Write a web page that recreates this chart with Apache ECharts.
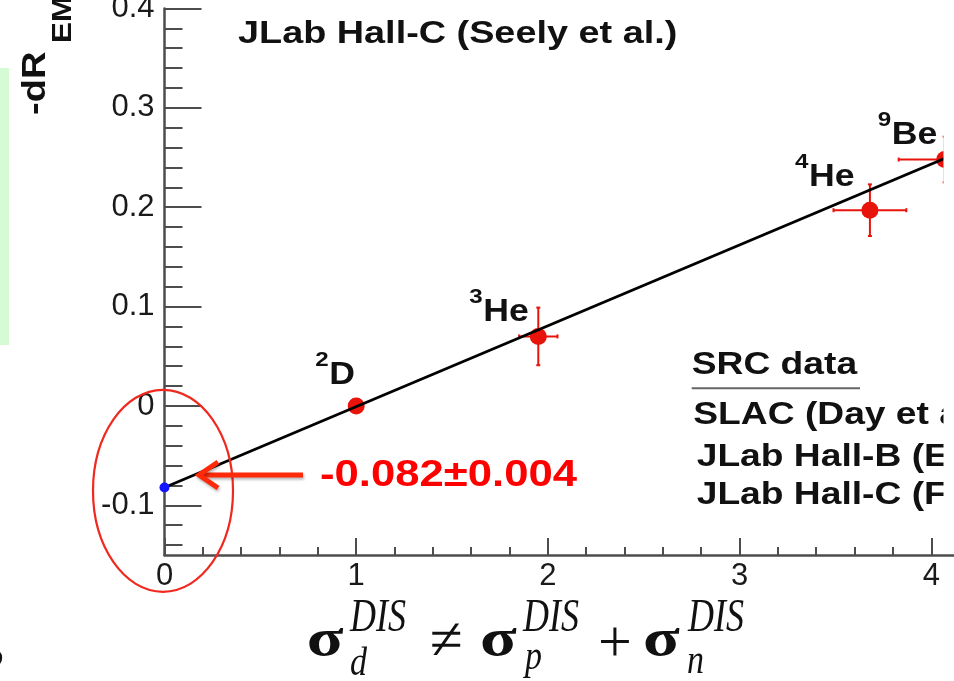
<!DOCTYPE html>
<html>
<head>
<meta charset="utf-8">
<script src="https://cdn.jsdelivr.net/npm/echarts@6/dist/echarts.min.js"></script>
<style>
  html, body { margin: 0; padding: 0; overflow: hidden; background: #ffffff; }
  #chart { width: 954px; height: 681px; }
</style>
</head>
<body>
<div id="chart"></div>
<script>
// Nuclei with both an SRC scale factor and an EMC slope
const massNumbers = ['2', '3', '4', '9'];
const elementNames = ['D', 'He', 'He', 'Be'];
const srcScale = [1.00, 1.95, 3.68, 4.07];
const srcScaleErr = [0.00, 0.10, 0.19, 0.24];
const emcSlope = [0.000, 0.070, 0.197, 0.248];
const emcSlopeErr = [0.000, 0.029, 0.026, 0.023];

// Straight-line fit through the points, extrapolated to zero SRC scale
const fitLineX = [0, 4.5];
const fitLineY = [-0.082, 0.284];
const interceptValue = -0.082;
const interceptErr = 0.004;

// Axis ticks
const xTickValues = [0, 1, 2, 3, 4];
const yTickValues = [-0.1, 0, 0.1, 0.2, 0.3, 0.4];

// Texts
const yAxisTitleMain = '-dR';
const yAxisTitleSub = 'EMC';
const yAxisTitleTail = '/dx';
const topLegendLine = 'JLab Hall-C (Seely et al.)';
const srcLegendTitle = 'SRC data';
const srcLegendEntries = ['SLAC (Day et al.)', 'JLab Hall-B (Egiyan et al.)', 'JLab Hall-C (Fomin et al.)'];

const RED = '#e8130b';
const AXIS = '#4d4d4d';
const SANS = 'Liberation Sans, Arial, Helvetica, sans-serif';
const SERIF = 'Liberation Serif, Times New Roman, serif';

const chart = echarts.init(document.getElementById('chart'), null, { renderer: 'canvas' });

// minor ticks of the y axis every 0.02
const yMinorTicks = [];
for (let k = -7; k <= 19; k++) {
  if (k % 5 !== 0) yMinorTicks.push(+(k * 0.02).toFixed(2));
}

const pointData = srcScale.map((x, i) => [x, emcSlope[i]]);
const errorData = srcScale.map((x, i) => [x, emcSlope[i], srcScaleErr[i], emcSlopeErr[i]]);
const fitData = fitLineX.map((x, i) => [x, fitLineY[i]]);

const option = {
  animation: false,
  backgroundColor: '#ffffff',
  grid: { left: 164.5, top: 8.5, width: 862.6, height: 546.5, containLabel: false, outerBoundsMode: 'none' },
  xAxis: {
    type: 'value', min: 0, max: 4.5, interval: 1,
    axisLine: { onZero: false, lineStyle: { color: AXIS, width: 2.5 } },
    axisTick: { inside: true, length: 17, lineStyle: { color: AXIS, width: 2 } },
    minorTick: { show: true, splitNumber: 5, length: 8, lineStyle: { color: AXIS, width: 2 } },
    axisLabel: {
      customValues: xTickValues,
      fontFamily: SANS, fontSize: 31, color: '#1a1a1a', margin: 6,
      formatter: v => String(v)
    },
    splitLine: { show: false }
  },
  yAxis: [
    {
      type: 'value', min: -0.15, max: 0.4,
      axisLine: { show: true, onZero: false, lineStyle: { color: AXIS, width: 2.5 } },
      axisTick: { customValues: yTickValues, inside: true, length: 37, lineStyle: { color: AXIS, width: 2 } },
      axisLabel: {
        customValues: yTickValues,
        fontFamily: SANS, fontSize: 31, color: '#1a1a1a', margin: 10,
        formatter: v => String(+(+v).toFixed(2))
      },
      splitLine: { show: false }
    },
    {
      type: 'value', min: -0.15, max: 0.4, position: 'left',
      axisLine: { show: false },
      axisTick: { customValues: yMinorTicks, inside: true, length: 18, lineStyle: { color: AXIS, width: 2 } },
      axisLabel: { show: false },
      splitLine: { show: false }
    }
  ],
  series: [
    {
      type: 'custom',
      name: 'errors',
      z: 2,
      clip: false,
      data: errorData,
      renderItem(params, api) {
        const x = api.value(0), y = api.value(1), ex = api.value(2), ey = api.value(3);
        const style = { stroke: RED, lineWidth: 2 };
        const children = [];
        const cap = 2;
        if (ex > 0) {
          const l = api.coord([x - ex, y]), r = api.coord([x + ex, y]);
          children.push({ type: 'line', shape: { x1: l[0], y1: l[1], x2: r[0], y2: r[1] }, style });
          children.push({ type: 'line', shape: { x1: l[0], y1: l[1] - cap, x2: l[0], y2: l[1] + cap }, style });
          children.push({ type: 'line', shape: { x1: r[0], y1: r[1] - cap, x2: r[0], y2: r[1] + cap }, style });
        }
        if (ey > 0) {
          const t = api.coord([x, y + ey]), b = api.coord([x, y - ey]);
          children.push({ type: 'line', shape: { x1: t[0], y1: t[1], x2: b[0], y2: b[1] }, style });
          children.push({ type: 'line', shape: { x1: t[0] - cap, y1: t[1], x2: t[0] + cap, y2: t[1] }, style });
          children.push({ type: 'line', shape: { x1: b[0] - cap, y1: b[1], x2: b[0] + cap, y2: b[1] }, style });
        }
        return { type: 'group', children };
      }
    },
    {
      type: 'scatter', name: 'SRC vs EMC', z: 3,
      symbol: 'circle', symbolSize: 17,
      itemStyle: { color: RED, opacity: 1 },
      data: pointData
    },
    {
      type: 'line', name: 'fit', z: 4,
      showSymbol: false, symbol: 'none',
      lineStyle: { color: '#000000', width: 2.8 },
      data: fitData
    },
    {
      type: 'scatter', name: 'intercept', z: 5,
      symbol: 'circle', symbolSize: 10,
      itemStyle: { color: '#1414ff', opacity: 1 },
      data: [[0, interceptValue]]
    }
  ]
};

chart.setOption(option);

// text helper: left edge at x, alphabetic baseline at y, optional stretch
function textAt(text, x, baseline, size, opts) {
  opts = opts || {};
  const k = opts.mid || 0.35;
  return {
    type: 'text',
    x: x,
    y: baseline - k * size,
    scaleX: opts.sx || 1,
    scaleY: opts.sy || 1,
    z: 100,
    style: {
      text: text,
      fontSize: size,
      fontWeight: opts.weight || 'bold',
      fontStyle: opts.italic ? 'italic' : 'normal',
      fontFamily: opts.family || SANS,
      fill: opts.color || '#111111',
      align: 'left',
      verticalAlign: 'middle'
    }
  };
}

const graphics = [];

// pale slide panel at the far left and a clipped glyph of the slide text
graphics.push({ type: 'rect', shape: { x: 0, y: 68, width: 9, height: 277 }, style: { fill: '#d4fbd4' }, z: 0 });
graphics.push(textAt('o', -15, 668, 30, {}));

// rotated y axis title (reads bottom to top)
const titleSize = 34, titleStretch = 1.12;
graphics.push({
  type: 'text', x: 48 - 0.35 * titleSize, y: 115, rotation: Math.PI / 2, scaleX: titleStretch, z: 100,
  style: { text: yAxisTitleMain, fontSize: titleSize, fontWeight: 'bold', fontFamily: SANS, fill: '#111', align: 'left', verticalAlign: 'middle' }
});
graphics.push({
  type: 'text', x: 73 - 0.35 * 28, y: 43, rotation: Math.PI / 2, scaleX: titleStretch, z: 100,
  style: { text: yAxisTitleSub + yAxisTitleTail, fontSize: 28, fontWeight: 'bold', fontFamily: SANS, fill: '#111', align: 'left', verticalAlign: 'middle' }
});

// legend text of the EMC data set
graphics.push(textAt(topLegendLine, 238, 45, 31, { sx: 1.22 }));

// SRC legend block
graphics.push(textAt(srcLegendTitle, 691.7, 376.7, 31, { sx: 1.2 }));
graphics.push({ type: 'line', shape: { x1: 691.7, y1: 388.3, x2: 860, y2: 388.3 }, style: { stroke: '#666666', lineWidth: 2 }, z: 100 });
const legendBaselines = [426.7, 468.3, 506.7];
const legendLefts = [693.3, 696.7, 696.7];
srcLegendEntries.forEach((t, i) => graphics.push(textAt(t, legendLefts[i], legendBaselines[i], 31, { sx: 1.2 })));

// nucleus labels, placed relative to each data point
const labelOffsets = [[-27, -20], [-55, -13], [-61, -22], [-53, -13]];
pointData.forEach((p, i) => {
  const px = chart.convertToPixel({ gridIndex: 0 }, p);
  const lx = px[0] + labelOffsets[i][0];
  const ly = px[1] + labelOffsets[i][1];
  graphics.push(textAt(elementNames[i], lx, ly, 31, { sx: 1.15 }));
  graphics.push(textAt(massNumbers[i], lx - 14, ly - 18.5, 21, { sx: 1.15 }));
});

// the plot picture ends a little before the right edge of the slide
graphics.push({ type: 'rect', shape: { x: 943.5, y: 0, width: 12, height: 545 }, style: { fill: '#ffffff' }, z: 200 });

// circled intercept with arrow and value
graphics.push({ type: 'ellipse', shape: { cx: 163, cy: 490.8, rx: 70, ry: 101 }, style: { fill: 'none', stroke: '#f0281e', lineWidth: 2.2 }, z: 90 });
const arrowStyle = { stroke: '#ff2a0a', lineWidth: 5, lineCap: 'butt', lineJoin: 'miter', shadowColor: 'rgba(0,0,0,0.3)', shadowBlur: 3, shadowOffsetX: 1, shadowOffsetY: 2 };
graphics.push({ type: 'polyline', shape: { points: [[303, 475], [200, 475]] }, style: arrowStyle, z: 90 });
graphics.push({ type: 'polyline', shape: { points: [[218, 462], [199, 475], [218, 488]] }, style: arrowStyle, z: 90 });
graphics.push(textAt(interceptValue.toFixed(3) + '\u00b1' + interceptErr.toFixed(3), 320, 488.3, 37, { sx: 1.18, color: '#ff0000' }));

// cross-section relation below the axis
const sig = { family: SERIF, weight: 'bold', sx: 1.3 };
const ital = { family: SERIF, weight: 'normal', italic: true, sy: 1.3 };
const sub = { family: SERIF, weight: 'normal', italic: true, sy: 1.2 };
const op = { family: SERIF, weight: 'normal' };
graphics.push(textAt('\u03c3', 306.7, 660, 52, sig));
graphics.push(textAt('DIS', 350, 631.7, 36, ital));
graphics.push(textAt('d', 350, 676, 34, sub));
graphics.push(textAt('\u2260', 430, 664, 60, op));
graphics.push(textAt('\u03c3', 480, 660, 52, sig));
graphics.push(textAt('DIS', 523, 631.7, 36, ital));
graphics.push(textAt('p', 525, 670, 34, sub));
graphics.push(textAt('+', 598, 666, 60, op));
graphics.push(textAt('\u03c3', 643, 660, 52, sig));
graphics.push(textAt('DIS', 688, 631.7, 36, ital));
graphics.push(textAt('n', 687, 674, 34, sub));

chart.setOption({ graphic: graphics });
</script>
</body>
</html>
